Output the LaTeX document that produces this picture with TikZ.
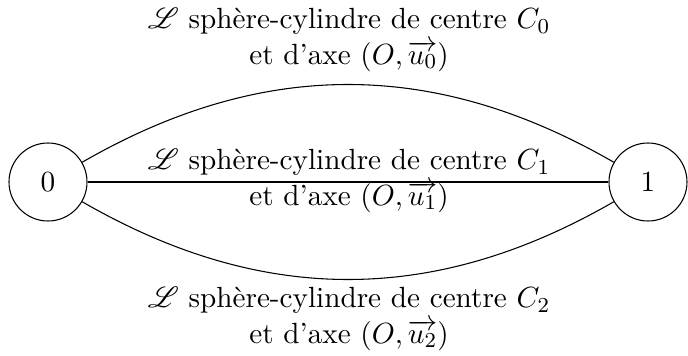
\documentclass[tikz,border=0pt]{standalone}
\usepackage{amsmath,amssymb,mathrsfs}
\begin{document}
\begin{tikzpicture}[x=0.375pt,y=-0.375pt,
  every node/.style={font=\fontsize{10.95}{13.2}\selectfont},
  state/.style={draw,circle,minimum size=78*0.375pt,inner sep=0pt},
  lab/.style={align=center,inner sep=0pt}]
\useasboundingbox (0,0) rectangle (688,356);
\node[state] (q0) at (48,182) {$0$};
\node[state] (q1) at (648,182) {$1$};
\draw (q0) to[bend left=30] (q1);
\draw (q0) -- (q1);
\draw (q0) to[bend right=30] (q1);
\node[lab] (l0) at (349,40) {$\mathscr{L}$ sphère-cylindre de centre $C_0$\\ et d'axe $(O,\overrightarrow{u_0})$};
\node[lab] (l1) at (349,181) {$\mathscr{L}$ sphère-cylindre de centre $C_1$\\ et d'axe $(O,\overrightarrow{u_1})$};
\node[lab] (l2) at (349,319) {$\mathscr{L}$ sphère-cylindre de centre $C_2$\\ et d'axe $(O,\overrightarrow{u_2})$};
\end{tikzpicture}
\end{document}
